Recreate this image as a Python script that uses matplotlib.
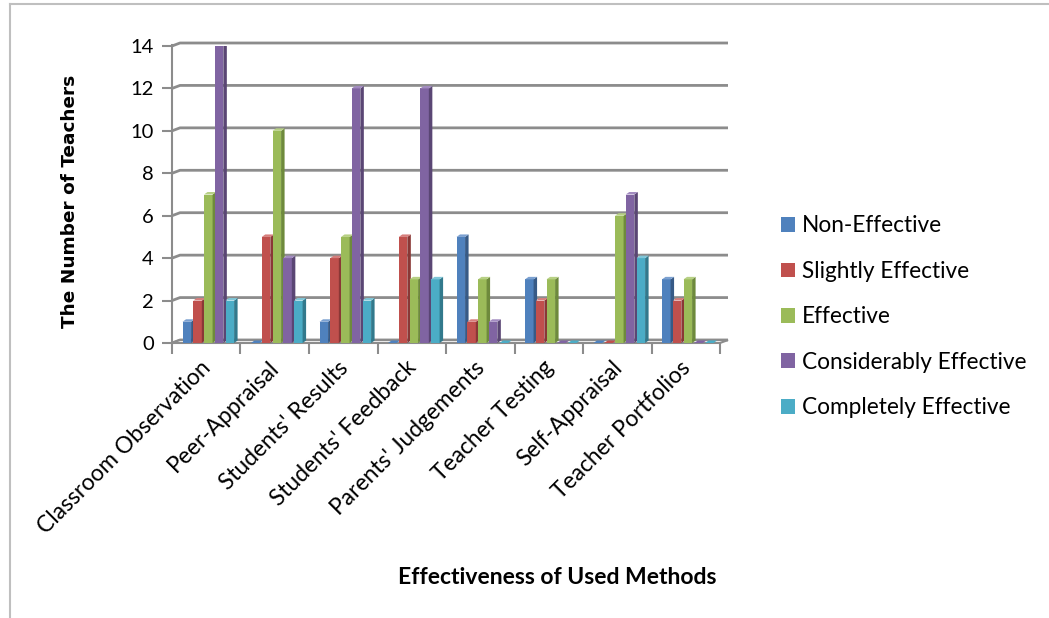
import matplotlib
matplotlib.use("Agg")
import matplotlib.pyplot as plt
from matplotlib.patches import Polygon, Patch
from matplotlib.lines import Line2D
import matplotlib.transforms as mtransforms

categories = ["Classroom Observation", "Peer-Appraisal", "Students' Results",
              "Students' Feedback", "Parents' Judgements", "Teacher Testing",
              "Self-Appraisal", "Teacher Portfolios"]
series_names = ["Non-Effective", "Slightly Effective", "Effective",
                "Considerably Effective", "Completely Effective"]
non_effective = [1, 0, 1, 0, 5, 3, 0, 3]
slightly_effective = [2, 5, 4, 5, 1, 2, 0, 2]
effective = [7, 10, 5, 3, 3, 3, 6, 3]
considerably_effective = [14, 4, 12, 12, 1, 0, 7, 0]
completely_effective = [2, 2, 2, 3, 0, 0, 4, 0]
yticks = [0, 2, 4, 6, 8, 10, 12, 14]

series = [non_effective, slightly_effective, effective,
          considerably_effective, completely_effective]
front = ["#4F81BD", "#C0504D", "#9BBB59", "#8064A2", "#4BACC6"]
side = ["#375A86", "#8A3836", "#6E8A3C", "#5A4674", "#32798C"]
top = ["#7BA0D0", "#D67E7C", "#B7D084", "#A28BC0", "#7EC6D8"]

W, H = 1049, 618
fig = plt.figure(figsize=(W / 100, H / 100), dpi=100)
fig.patch.set_facecolor("white")

# axes placed in pixel terms: x from 172 to 720, y value 0 at 343 and 14 at 46
ax = fig.add_axes([172 / W, (H - 343) / H, (720 - 172) / W, (343 - 46) / H])
ax.set_xlim(-0.5, len(categories) - 0.5)
ax.set_ylim(0, 14)
for s in ax.spines.values():
    s.set_visible(False)
ax.patch.set_alpha(0)

px_x = (len(categories)) / (720 - 172)   # data units per pixel (x)
px_y = 14 / (343 - 46)                   # data units per pixel (y)

grid_c = "#8C8C8C"
wall_dx, wall_dy = 8 * px_x, 3 * px_y
x0, x1 = -0.5, len(categories) - 0.5

# back-wall gridlines with a short slanted left end
for v in yticks:
    ax.plot([x0, x0 + wall_dx, x1 + wall_dx], [v, v + wall_dy, v + wall_dy],
            color=grid_c, lw=2, clip_on=False, zorder=1, solid_capstyle="butt")
# left wall edge
ax.plot([x0, x0], [0, 14 + 0.05], color=grid_c, lw=1.5, clip_on=False, zorder=1)
# floor
ax.add_patch(Polygon([(x0, 0), (x1, 0), (x1 + wall_dx, wall_dy), (x0 + wall_dx, wall_dy)],
                     closed=True, facecolor="#F2F2F2", edgecolor=grid_c, lw=1.5,
                     clip_on=False, zorder=1.5))

# bars with side and top faces
n = len(series)
step = 0.157
bw = 0.125
bdx, bdy = 3.5 * px_x, 2.5 * px_y
for j, vals in enumerate(series):
    for i, v in enumerate(vals):
        left = i + (j - (n - 1) / 2) * step - bw / 2 + 0.03
        right = left + bw
        z = 3 + j * 0.01
        if v > 0:
            ax.bar(left, v, width=bw, align="edge", color=front[j], lw=0, zorder=z)
            ax.add_patch(Polygon([(right, 0), (right + bdx, bdy), (right + bdx, v + bdy), (right, v)],
                                 closed=True, facecolor=side[j], lw=0, zorder=z))
        ax.add_patch(Polygon([(left, v), (left + bdx, v + bdy), (right + bdx, v + bdy), (right, v)],
                             closed=True, facecolor=top[j] if v > 0 else front[j], lw=0, zorder=z))

# ticks
ax.set_yticks(yticks)
ax.set_yticklabels([str(t) for t in yticks])
ax.set_xticks([i - 0.5 for i in range(len(categories) + 1)])
ax.set_xticklabels([])
ax.tick_params(axis="y", length=7, width=1.5, color=grid_c, pad=6, labelsize=14.5)
ax.tick_params(axis="x", length=8, width=1.5, color=grid_c)
for lab in ax.get_yticklabels():
    lab.set_fontfamily("Lato")

# rotated category labels
trans = mtransforms.blended_transform_factory(ax.transData, ax.transAxes)
for i, c in enumerate(categories):
    ax.text(i + 0.02, -0.072, c, rotation=45, rotation_mode="anchor",
            ha="right", va="center", fontsize=16.4, family="Lato", transform=trans)

fig.text(70 / W, 1 - 201 / H, "The Number of Teachers", rotation=90, ha="center",
         va="center", fontsize=13.3, fontweight="bold", family="DejaVu Sans")
fig.text(557 / W, 1 - 577 / H, "Effectiveness of Used Methods", ha="center", va="center",
         fontsize=16.5, fontweight="bold", family="Lato")

handles = [Patch(facecolor=front[j], edgecolor="none") for j in range(n)]
fig.legend(handles, series_names, loc="upper left", bbox_to_anchor=(761 / W, 1 - 195 / H),
           frameon=False, prop={"family": "Lato", "size": 16.3}, handlelength=0.62,
           handleheight=0.62, handletextpad=0.3, labelspacing=1.08)

# outer frame lines on left and top
fig.add_artist(Line2D([10 / W, 10 / W], [0, 1 - 4 / H], color="#BFBFBF", lw=1.5))
fig.add_artist(Line2D([10 / W, 1], [1 - 4 / H, 1 - 4 / H], color="#BFBFBF", lw=1.5))

fig.savefig("out.png", dpi=100)
